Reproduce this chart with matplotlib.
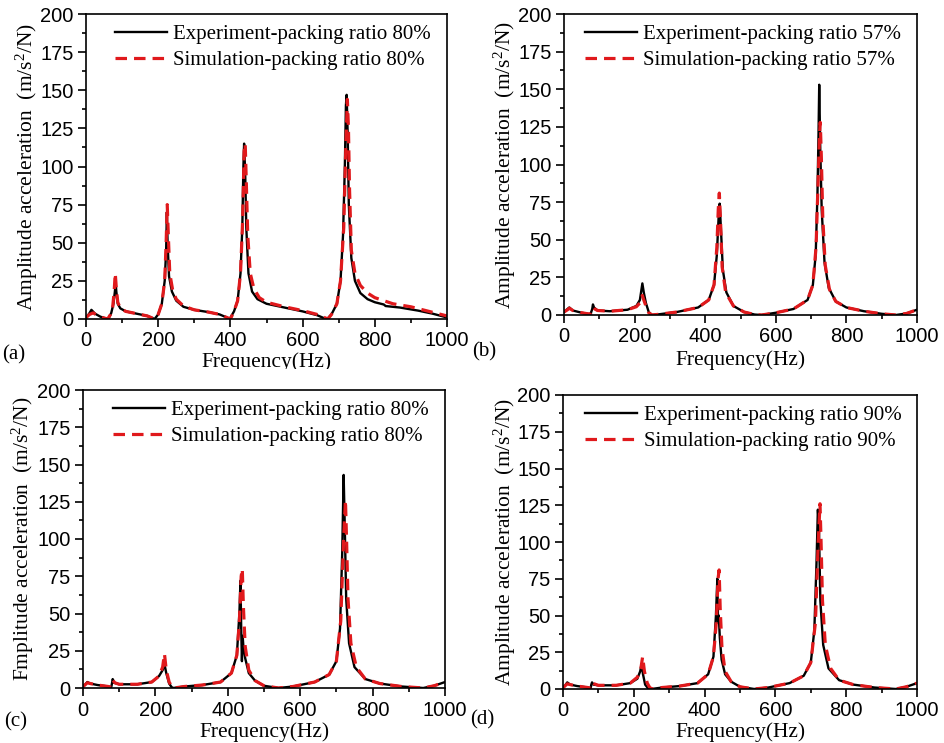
import matplotlib
matplotlib.use("Agg")
import matplotlib.pyplot as plt
from matplotlib.ticker import MultipleLocator
from matplotlib.transforms import Bbox, TransformedBbox

plt.rcParams['mathtext.fontset'] = 'custom'
plt.rcParams['mathtext.rm'] = 'Liberation Serif'
plt.rcParams['mathtext.it'] = 'Liberation Serif:italic'

# ---------------- data ----------------
# Panel (a): packing ratio 80%
a_exp_f = [0, 10, 15, 25, 40, 55, 62, 70, 76, 80, 82, 84, 88, 95, 110, 140, 170, 185, 190,
           200, 210, 218, 222, 224, 226, 230, 238, 250, 270, 300, 340, 370, 390, 398,
           410, 420, 428, 433, 436, 438, 441, 444, 450, 460, 475, 500, 550, 600, 640, 660, 668,
           680, 695, 705, 712, 717, 720, 722, 725, 728, 735, 745, 760, 780, 800, 825, 830, 870, 920, 960, 1000]
a_exp_y = [0.5, 4, 6, 3.5, 1.5, 0.3, 0, 4, 10, 18, 24, 18, 10, 7, 5, 3.5, 2, 0.5, 0,
           3, 10, 25, 45, 70, 50, 28, 18, 12, 8, 6, 4.5, 3, 1, 0,
           5, 12, 30, 60, 100, 115, 95, 60, 30, 18, 13, 10, 7.5, 5, 2.5, 0.5, 0,
           3, 10, 25, 55, 100, 140, 147, 120, 75, 40, 25, 17, 13, 11, 9.5, 8.5, 7.5, 5.5, 3.5, 1]
a_sim_f = [0, 10, 20, 30, 45, 60, 68, 74, 78, 81, 84, 88, 95, 110, 140, 170, 190,
           200, 210, 218, 222, 225, 228, 232, 240, 250, 270, 300, 340, 370, 390, 400,
           410, 420, 428, 434, 438, 441, 444, 448, 455, 465, 480, 500, 550, 600, 640, 660, 670,
           680, 695, 705, 714, 720, 724, 727, 730, 735, 745, 760, 780, 800, 850, 900, 950, 1000]
a_sim_y = [1, 3, 4, 2.5, 1, 0, 3, 8, 18, 30, 20, 11, 7, 5, 3.5, 2, 0,
           3, 10, 25, 50, 75, 55, 30, 19, 13, 8.5, 6, 4.5, 3, 1, 0,
           5, 12, 30, 65, 110, 115, 90, 55, 30, 20, 14, 11, 8, 5.5, 3, 1, 0,
           3, 10, 25, 60, 115, 144, 125, 85, 45, 30, 22, 17, 14, 10, 8, 5, 2]

# Panel (b): packing ratio 57%
b_exp_f = [0, 10, 15, 25, 50, 75, 80, 82, 85, 95, 130, 180, 205, 215, 222, 226, 232, 240, 248,
           270, 320, 380, 410, 425, 433, 438, 441, 444, 450, 460, 480, 510, 540, 560,
           600, 650, 690, 705, 713, 718, 721, 723, 726, 730, 738, 750, 770, 800, 850, 900, 940, 970, 1000]
b_exp_y = [2, 4, 5, 3, 1.5, 0.5, 4, 7, 5, 3, 2.5, 3.5, 6, 10, 21, 15, 8, 2, 0,
           0.5, 2, 5, 10, 20, 40, 65, 74, 60, 30, 15, 6, 2, 0.3, 0,
           1.5, 4, 10, 20, 40, 80, 120, 153, 110, 70, 35, 18, 9, 5, 2.5, 0.8, 0, 1, 3.5]
b_sim_f = [0, 10, 15, 25, 50, 75, 80, 83, 87, 95, 130, 180, 205, 215, 222, 226, 232, 240, 250,
           270, 320, 380, 410, 425, 433, 437, 440, 443, 448, 458, 480, 510, 540, 560,
           600, 650, 690, 705, 714, 720, 724, 726, 729, 733, 740, 752, 770, 800, 850, 900, 940, 970, 1000]
b_sim_y = [2, 3.5, 4.5, 3, 1.5, 0.5, 3, 5, 4, 3, 2.5, 3.5, 5.5, 8, 13, 10, 6, 1.5, 0,
           0.5, 2, 5, 10, 20, 45, 70, 81, 65, 32, 15, 6, 2, 0.3, 0,
           1.5, 4, 10, 20, 45, 90, 120, 128, 105, 65, 33, 17, 9, 5, 2.5, 0.8, 0, 1, 3.5]

# Panel (c): packing ratio 80%
c_exp_f = [0, 5, 12, 20, 40, 70, 78, 80, 82, 86, 100, 150, 190, 210, 220, 225, 230, 238, 245, 250,
           280, 330, 380, 410, 425, 432, 435, 437, 439, 441, 443, 448, 458, 475, 500, 540,
           580, 640, 680, 700, 710, 716, 720, 723, 727, 735, 750, 780, 820, 880, 940, 970, 1000]
c_exp_y = [1, 2, 4, 3, 2, 1, 0.5, 3, 6, 3.5, 2.5, 2.5, 4, 8, 12, 16, 10, 3, 0.5, 0,
           1, 2, 4, 10, 22, 50, 72, 40, 18, 35, 28, 20, 10, 5, 1.5, 0,
           1, 4, 9, 18, 40, 90, 143, 110, 60, 30, 14, 6, 3, 1, 0, 1.5, 4]
c_sim_f = [0, 5, 12, 20, 40, 70, 78, 80, 83, 88, 100, 150, 190, 210, 220, 225, 230, 238, 245, 252,
           280, 330, 380, 410, 425, 432, 437, 440, 443, 448, 458, 475, 500, 540,
           580, 640, 680, 700, 712, 720, 725, 728, 732, 740, 755, 780, 820, 880, 940, 970, 1000]
c_sim_y = [1, 2, 3.5, 3, 2, 1, 0.5, 3, 5, 3.5, 2.5, 2.5, 4, 8, 14, 23, 12, 4, 1, 0,
           1, 2, 4, 10, 22, 45, 75, 80, 55, 28, 12, 5, 1.5, 0,
           1, 4, 9, 18, 45, 100, 126, 100, 60, 30, 14, 6, 3, 1, 0, 1.5, 4]

# Panel (d): packing ratio 90%
d_exp_f = [0, 5, 12, 20, 40, 70, 78, 80, 82, 86, 100, 150, 190, 210, 218, 222, 226, 232, 240, 250,
           280, 330, 380, 410, 425, 432, 436, 438, 440, 443, 448, 458, 475, 500, 540,
           580, 640, 680, 700, 710, 716, 720, 723, 727, 735, 750, 780, 820, 880, 940, 970, 1000]
d_exp_y = [1, 2, 4.5, 3, 2, 1, 0.5, 3, 4.5, 3, 2.5, 2.5, 4, 7, 12, 17, 10, 3, 0.5, 0,
           1, 2, 4, 10, 22, 50, 75, 45, 50, 35, 20, 10, 5, 1.5, 0,
           1, 4, 9, 18, 40, 85, 122, 110, 60, 30, 14, 6, 3, 1, 0, 1.5, 4]
d_sim_f = [0, 5, 12, 20, 40, 70, 78, 80, 83, 88, 100, 150, 190, 210, 220, 225, 230, 238, 245, 252,
           280, 330, 380, 410, 425, 433, 438, 441, 444, 449, 458, 475, 500, 540,
           580, 640, 680, 700, 713, 721, 726, 729, 733, 741, 756, 780, 820, 880, 940, 970, 1000]
d_sim_y = [1, 2, 3.5, 3, 2, 1, 0.5, 3, 4.5, 3.5, 2.5, 2.5, 4, 8, 14, 22, 12, 4, 1, 0,
           1, 2, 4, 10, 22, 45, 75, 81, 55, 28, 12, 5, 1.5, 0,
           1, 4, 9, 18, 45, 100, 126, 100, 60, 30, 14, 6, 3, 1, 0, 1.5, 4]

panel_tags = ["(a)", "(b)", "(c)", "(d)"]
exp_labels = ["Experiment-packing ratio 80%", "Experiment-packing ratio 57%",
              "Experiment-packing ratio 80%", "Experiment-packing ratio 90%"]
sim_labels = ["Simulation-packing ratio 80%", "Simulation-packing ratio 57%",
              "Simulation-packing ratio 80%", "Simulation-packing ratio 90%"]
ylabels = ["Amplitude acceleration  (m/s$^{2}$/N)", "Amplitude acceleration  (m/s$^{2}$/N)",
           "Fmplitude acceleration  (m/s$^{2}$/N)", "Amplitude acceleration  (m/s$^{2}$/N)"]
xlabel = "Frequency(Hz)"

series = [(a_exp_f, a_exp_y, a_sim_f, a_sim_y),
          (b_exp_f, b_exp_y, b_sim_f, b_sim_y),
          (c_exp_f, c_exp_y, c_sim_f, c_sim_y),
          (d_exp_f, d_exp_y, d_sim_f, d_sim_y)]

# ---------------- layout (pixels, origin top-left) ----------------
W, H = 944, 743
boxes = [(86, 447, 14, 319), (564, 917, 14, 315), (83, 445, 390, 688), (563, 917, 395, 689)]
ylab_x = [27, 505, 23, 505]
xlab_y = [362, 360, 732, 732]
tag_pos = [(14, 355), (484, 352), (16, 722), (482, 720)]

serif = 'Liberation Serif'
sans = 'Liberation Sans'
RED = '#e0191c'

fig = plt.figure(figsize=(W / 100, H / 100), dpi=100)

for i, (l, r, t, b) in enumerate(boxes):
    ax = fig.add_axes([l / W, (H - b) / H, (r - l) / W, (b - t) / H])
    ef, ey, sf, sy = series[i]
    ax.plot(ef, ey, color='black', lw=1.7, label=exp_labels[i])
    ax.plot(sf, sy, color=RED, lw=2.3, ls=(0, (3.6, 2.2)), label=sim_labels[i])
    ax.set_xlim(0, 1000)
    ax.set_ylim(0, 200)
    ax.xaxis.set_major_locator(MultipleLocator(200))
    ax.xaxis.set_minor_locator(MultipleLocator(100))
    ax.yaxis.set_major_locator(MultipleLocator(25))
    ax.yaxis.set_minor_locator(MultipleLocator(12.5))
    ax.tick_params(which='both', direction='out', top=False, right=False, width=1.2)
    ax.tick_params(which='major', length=6, pad=3, labelsize=14.5)
    ax.tick_params(which='minor', length=3)
    for lab in ax.get_xticklabels() + ax.get_yticklabels():
        lab.set_fontfamily(sans)
    for sp in ax.spines.values():
        sp.set_linewidth(1.2)

    # axis labels
    xl = ax.set_xlabel(xlabel, fontfamily=serif, fontsize=15.5)
    cx = (l + r) / 2
    ax.xaxis.set_label_coords((cx - l) / (r - l), (b - xlab_y[i]) / (b - t))
    xl.set_va('center')
    yl = ax.set_ylabel(ylabels[i], fontfamily=serif, fontsize=15.5)
    ax.yaxis.set_label_coords((ylab_x[i] - l) / (r - l), 0.5)
    yl.set_va('center')
    if i == 0:
        xl.set_clip_on(True)
        xl.set_clip_box(TransformedBbox(Bbox.from_extents(0, (H - 369) / 100, W / 100, H / 100),
                                        fig.dpi_scale_trans))

    leg = ax.legend(loc='upper right', bbox_to_anchor=(0.985, 1.0), frameon=False,
                    prop={'family': serif, 'size': 15}, handlelength=2.5,
                    handletextpad=0.3, labelspacing=0.3, borderaxespad=0.1)

    tx, ty = tag_pos[i]
    fig.text(tx / W, 1 - ty / H, panel_tags[i], fontfamily=serif, fontsize=15,
             ha='center', va='center')

fig.savefig('out.png', dpi=100)
